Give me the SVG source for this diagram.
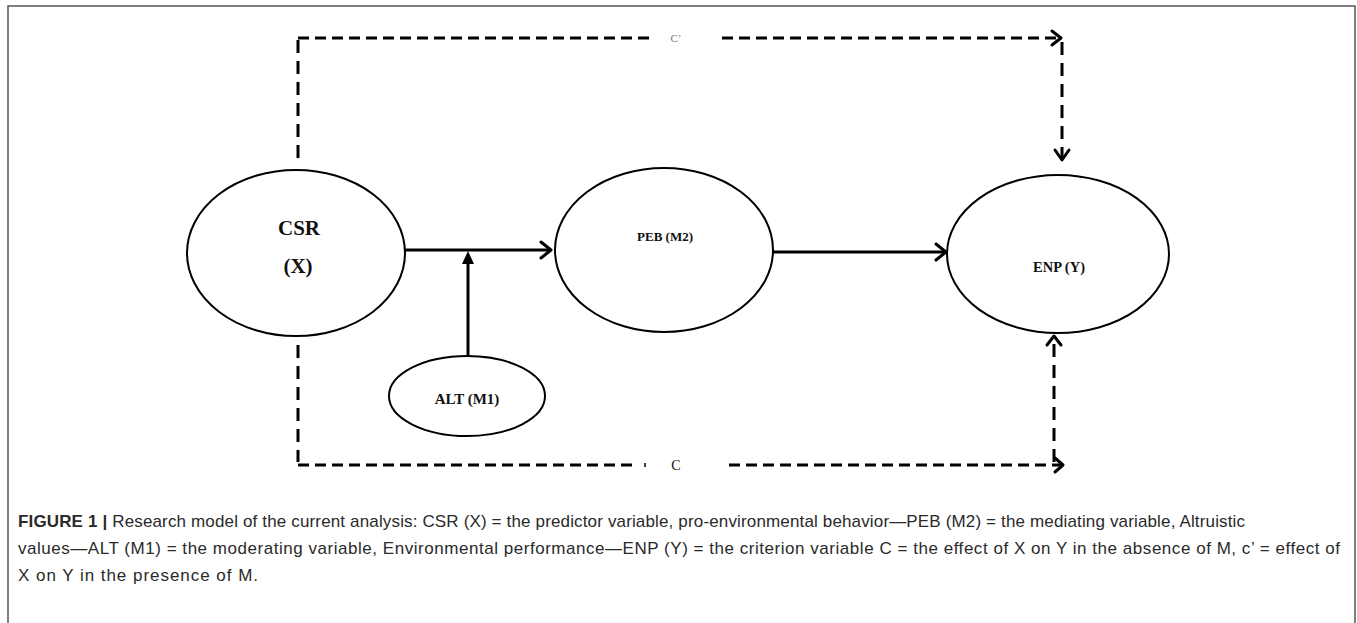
<svg xmlns="http://www.w3.org/2000/svg" width="1357" height="623" viewBox="0 0 1357 623">
<style>
.node{fill:#fff;stroke:#000;stroke-width:2}
.lbl{font-family:"Liberation Serif","Times New Roman",serif;font-weight:bold;fill:#111;text-anchor:middle}
.solid{fill:none;stroke:#000;stroke-width:3}
.dashh{fill:none;stroke:#000;stroke-width:3;stroke-dasharray:11 6}
.dashv{fill:none;stroke:#000;stroke-width:3;stroke-dasharray:13 8}
.head{fill:none;stroke:#000;stroke-width:3;stroke-linecap:round;stroke-linejoin:round}
.cap{font-family:"Liberation Sans",Arial,sans-serif;font-size:17px;fill:#2a2a2a}
.path{font-family:"Liberation Serif","Times New Roman",serif}
</style>
<rect x="0" y="0" width="1357" height="623" fill="#fff"/>
<rect x="8" y="6" width="1347" height="640" fill="none" stroke="#555" stroke-width="1.5"/>

<g id="connectors">
  <!-- CSR -> PEB -->
  <line class="solid" x1="405" y1="250" x2="550" y2="250"/>
  <polyline class="head" points="541,242 551,250 541,258"/>
  <!-- ALT -> path -->
  <line class="solid" x1="468" y1="357" x2="468" y2="262"/>
  <polygon points="468,251 462,264 474,264" fill="#000"/>
  <!-- PEB -> ENP -->
  <line class="solid" x1="773" y1="252" x2="945" y2="252"/>
  <polyline class="head" points="936,244 946,252 936,260"/>
  <!-- c' path (top) -->
  <polyline class="dashv" points="298,158 298,40"/>
  <polyline class="dashh" points="298,38 655,38"/>
  <line class="dashh" x1="722" y1="38" x2="1060" y2="38"/>
  <polyline class="head" points="1052,31 1061,38 1052,45"/>
  <line class="dashv" x1="1062" y1="42" x2="1062" y2="158"/>
  <polyline class="head" points="1055,150 1062,160 1069,150"/>
  <text class="path" x="676" y="42" font-size="11" fill="#777" text-anchor="middle">C’</text>
  <!-- c path (bottom) -->
  <polyline class="dashv" points="298,345 298,462"/>
  <line class="dashh" x1="298" y1="465" x2="636" y2="465"/>
  <line x1="645" y1="463" x2="645" y2="467" stroke="#000" stroke-width="1.5"/>
  <text class="path" x="676" y="470" font-size="14" fill="#111" text-anchor="middle">C</text>
  <line class="dashh" x1="729" y1="465" x2="1062" y2="465"/>
  <polyline class="head" points="1055,458 1063,465 1055,472"/>
  <line class="dashv" x1="1054" y1="462" x2="1054" y2="340"/>
  <polyline class="head" points="1047,345 1054,336 1061,345"/>
</g>

<g id="csr">
  <ellipse class="node" cx="296" cy="253" rx="109" ry="83"/>
  <text class="lbl" x="299" y="235" font-size="21">CSR</text>
  <text class="lbl" x="298" y="273" font-size="21">(X)</text>
</g>
<g id="peb">
  <ellipse class="node" cx="664" cy="250" rx="109" ry="82"/>
  <text class="lbl" x="665" y="241" font-size="13">PEB (M2)</text>
</g>
<g id="enp">
  <ellipse class="node" cx="1058" cy="254" rx="111" ry="79"/>
  <text class="lbl" x="1059" y="272" font-size="14.5">ENP (Y)</text>
</g>
<g id="alt">
  <ellipse class="node" cx="467" cy="396" rx="78" ry="40"/>
  <text class="lbl" x="467" y="404" font-size="15">ALT (M1)</text>
</g>

<g id="caption">
  <text class="cap" x="18" y="527" textLength="1227" lengthAdjust="spacing"><tspan font-weight="bold">FIGURE 1 |</tspan> Research model of the current analysis: CSR (X) = the predictor variable, pro-environmental behavior—PEB (M2) = the mediating variable, Altruistic</text>
  <text class="cap" x="18" y="554" textLength="1322" lengthAdjust="spacing">values—ALT (M1) = the moderating variable, Environmental performance—ENP (Y) = the criterion variable C = the effect of X on Y in the absence of M, c’ = effect of</text>
  <text class="cap" x="18" y="581" textLength="240" lengthAdjust="spacing">X on Y in the presence of M.</text>
</g>
</svg>
